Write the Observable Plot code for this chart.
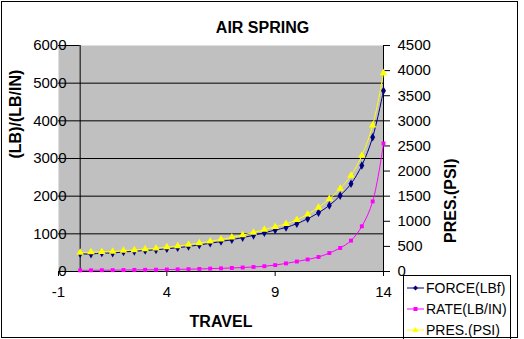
<!DOCTYPE html>
<html>
<head>
<meta charset="utf-8">
<script src="https://cdn.jsdelivr.net/npm/d3@7"></script>
<script src="https://cdn.jsdelivr.net/npm/@observablehq/plot@0.6"></script>
<style>
  html, body { margin: 0; padding: 0; background: #fff; }
  #wrap { position: relative; width: 524px; height: 339px; overflow: hidden; font-family: "Liberation Sans", Arial, sans-serif; }
  #wrap svg.plot { position: absolute; left: 0; top: 0; }
  #border { position: absolute; left: 1px; top: 1px; width: 515px; height: 335px; border: 1px solid #000; pointer-events: none; }
  #legend { position: absolute; left: 403px; top: 275px; width: 106px; height: 70px; border: 1px solid #000; background: #fff; }
  .item { position: absolute; left: 3px; height: 20px; display: flex; align-items: center; font-size: 14px; white-space: nowrap; }
  .item svg { margin-right: 2px; }
</style>
</head>
<body>
<div id="wrap"></div>
<script>
// ---- data ----
const travel = [0,0.5,1,1.5,2,2.5,3,3.5,4,4.5,5,5.5,6,6.5,7,7.5,8,8.5,9,9.5,10,10.5,11,11.5,12,12.5,13,13.5,14];
const force  = [470,462,490,488,520,535,560,575,605,630,665,705,750,795,845,900,960,1030,1100,1170,1270,1400,1560,1755,2015,2330,2815,3565,4800];
const rate   = [30,32,34,36,39,42,45,48,53,57,62,68,76,84,94,106,120,140,170,215,265,320,385,490,625,820,1200,1860,3400];
const pres   = [375,385,392,398,415,428,448,462,485,505,535,565,600,640,680,725,775,835,890,950,1030,1140,1275,1445,1650,1910,2310,2910,3950];
const xTicks = [-1,4,9,14];
const leftTicks = [0,1000,2000,3000,4000,5000,6000];
const rightTicks = [0,500,1000,1500,2000,2500,3000,3500,4000,4500];
const seriesNames = ["FORCE(LBf)","RATE(LB/IN)","PRES.(PSI)"];
const colors = {force:"#000080", rate:"#ff00ff", pres:"#ffff00"};

// secondary axis: 4500 PSI at the top of 6000 on the primary axis
const k = 6000 / 4500;
const rows = travel.map((t,i) => ({t, force: force[i], rate: rate[i], presL: pres[i]*k}));

const chart = Plot.plot({
  width: 524, height: 339,
  marginLeft: 58, marginRight: 141, marginTop: 45, marginBottom: 68,
  x: {domain: [-1, 14]},
  y: {domain: [0, 6000]},
  style: {fontFamily: "'Liberation Sans', Arial, sans-serif", fontSize: "15px", color: "#000", background: "transparent", overflow: "visible"},
  marks: [
    Plot.frame({fill: "#c0c0c0", stroke: null}),
    Plot.ruleY(leftTicks.filter(d => d < 6000), {stroke: "#000", strokeWidth: 1}),
    Plot.ruleY([6000], {x1: -1, x2: 0, stroke: "#000"}),
    Plot.ruleX([0], {stroke: "#000"}),
    Plot.ruleX([14], {stroke: "#000"}),
    Plot.axisY({anchor: "left", ticks: leftTicks, tickFormat: d => String(d), tickSize: 0, tickPadding: 0, dx: 8, label: null, fontSize: 15}),
    Plot.axisY({anchor: "right", ticks: rightTicks.map(d => d*k), tickFormat: d => String(Math.round(d/k)), tickSize: 6, tickPadding: 8, label: null, fontSize: 15}),
    Plot.axisX({ticks: xTicks, tickFormat: d => String(d), tickSize: 5, tickPadding: 10, label: null, fontSize: 15}),
    Plot.line(rows, {x: "t", y: "force", stroke: colors.force, strokeWidth: 1, curve: "catmull-rom"}),
    Plot.dot(rows, {x: "t", y: "force", symbol: "diamond", r: 2.6, fill: colors.force, stroke: null}),
    Plot.line(rows, {x: "t", y: "rate", stroke: colors.rate, strokeWidth: 1, curve: "catmull-rom"}),
    Plot.dot(rows, {x: "t", y: "rate", symbol: "square", r: 2.2, fill: colors.rate, stroke: null}),
    Plot.line(rows, {x: "t", y: "presL", stroke: colors.pres, strokeWidth: 1, curve: "catmull-rom"}),
    Plot.dot(rows, {x: "t", y: "presL", symbol: "triangle", r: 2.8, fill: colors.pres, stroke: null}),
    Plot.text(["AIR SPRING"], {frameAnchor: "top", lineAnchor: "middle", dx: 41.5, dy: -18, fontWeight: "bold", fontSize: 16}),
    Plot.text(["TRAVEL"], {frameAnchor: "bottom", lineAnchor: "middle", dy: 50, fontWeight: "bold", fontSize: 16}),
    Plot.text(["(LB)/(LB/IN)"], {frameAnchor: "left", rotate: -90, dx: -43, fontWeight: "bold", fontSize: 16}),
    Plot.text(["PRES.(PSI)"], {frameAnchor: "right", rotate: -90, dx: 67, fontWeight: "bold", fontSize: 16})
  ]
});
chart.classList.add("plot");
const wrap = document.getElementById("wrap");
wrap.appendChild(chart);

// legend
const legend = document.createElement("div");
legend.id = "legend";
const sym = [
  c => `<path d="M8.5 2.5 L11 5 L8.5 7.5 L6 5 Z" fill="${c}"/>`,
  c => `<rect x="6.5" y="3" width="4" height="4" fill="${c}"/>`,
  c => `<path d="M8.5 2 L11.5 7 L5.5 7 Z" fill="${c}"/>`
];
[colors.force, colors.rate, colors.pres].forEach((c, i) => {
  const it = document.createElement("div");
  it.className = "item";
  it.style.top = (2 + i*21) + "px";
  it.innerHTML = `<svg width="17" height="10"><line x1="0" y1="5" x2="17" y2="5" stroke="${c}" stroke-width="1"/>${sym[i](c)}</svg><span>${seriesNames[i]}</span>`;
  legend.appendChild(it);
});
wrap.appendChild(legend);
const border = document.createElement("div");
border.id = "border";
wrap.appendChild(border);
</script>
</body>
</html>
